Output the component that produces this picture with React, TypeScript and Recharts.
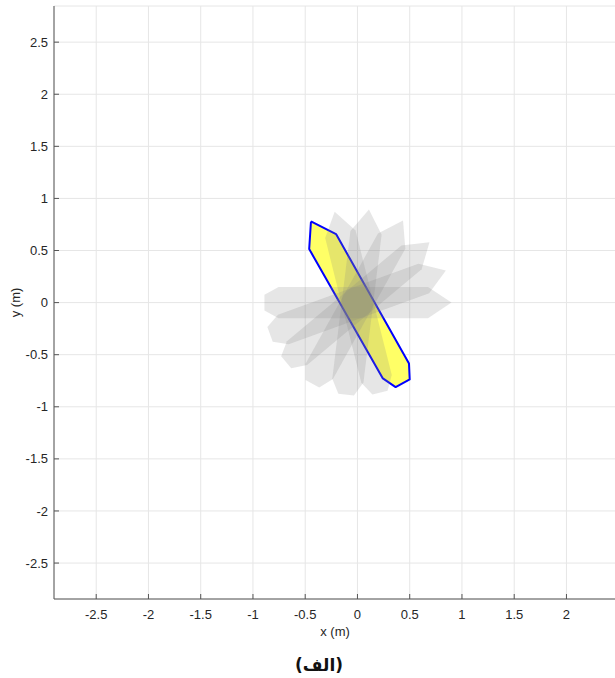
import React from 'react'
import { CartesianGrid, Label, Scatter, ScatterChart, XAxis, YAxis } from 'recharts'

const xTicks = [-2.5, -2, -1.5, -1, -0.5, 0, 0.5, 1, 1.5, 2]
const yTicks = [-2.5, -2, -1.5, -1, -0.5, 0, 0.5, 1, 1.5, 2, 2.5]

// current rod position (yellow, blue outline)
const rodNow = [
    { x: -0.445, y: 0.779 },
    { x: -0.205, y: 0.658 },
    { x: 0.493, y: -0.584 },
    { x: 0.5, y: -0.738 },
    { x: 0.365, y: -0.811 },
    { x: 0.243, y: -0.728 },
    { x: -0.462, y: 0.514 },
]

// earlier rod positions (grey ghosts)
const rod0 = [
    { x: 0.9, y: 0 },
    { x: 0.675, y: 0.15 },
    { x: -0.755, y: 0.15 },
    { x: -0.89, y: 0.075 },
    { x: -0.89, y: -0.075 },
    { x: -0.755, y: -0.15 },
    { x: 0.675, y: -0.15 },
]
const rod20 = [
    { x: 0.846, y: 0.308 },
    { x: 0.583, y: 0.372 },
    { x: -0.761, y: -0.117 },
    { x: -0.862, y: -0.234 },
    { x: -0.811, y: -0.375 },
    { x: -0.658, y: -0.399 },
    { x: 0.686, y: 0.09 },
]
const rod40 = [
    { x: 0.689, y: 0.579 },
    { x: 0.421, y: 0.549 },
    { x: -0.675, y: -0.37 },
    { x: -0.73, y: -0.515 },
    { x: -0.634, y: -0.63 },
    { x: -0.482, y: -0.6 },
    { x: 0.614, y: 0.319 },
]
const rod61 = [
    { x: 0.436, y: 0.787 },
    { x: 0.196, y: 0.663 },
    { x: -0.497, y: -0.588 },
    { x: -0.497, y: -0.742 },
    { x: -0.366, y: -0.815 },
    { x: -0.235, y: -0.733 },
    { x: 0.458, y: 0.518 },
]
const rod83 = [
    { x: 0.11, y: 0.893 },
    { x: -0.067, y: 0.688 },
    { x: -0.241, y: -0.731 },
    { x: -0.183, y: -0.874 },
    { x: -0.034, y: -0.892 },
    { x: 0.057, y: -0.768 },
    { x: 0.231, y: 0.652 },
]
const rod104 = [
    { x: -0.218, y: 0.873 },
    { x: -0.309, y: 0.619 },
    { x: 0.037, y: -0.769 },
    { x: 0.143, y: -0.882 },
    { x: 0.288, y: -0.846 },
    { x: 0.328, y: -0.696 },
    { x: -0.018, y: 0.691 },
]
const pastRods = [rod0, rod20, rod40, rod61, rod83, rod104]

const closed = (pts: { x: number; y: number }[]) => [...pts, pts[0]]
const noDot = () => <g />

const tickStyle = { fill: '#262626', fontSize: 13, fontFamily: 'Liberation Sans, Arial, sans-serif' }

const App = () => {
    return (
        <div style={{ position: 'absolute', left: 0, top: 0, width: 615, height: 678, overflow: 'hidden', background: '#fff' }}>
            <ScatterChart width={616} height={678} margin={{ top: 6, right: 0, bottom: 0, left: 0 }}>
                <CartesianGrid stroke='#e6e6e6' />
                <XAxis
                    type='number'
                    dataKey='x'
                    domain={[-2.904, 2.474]}
                    allowDataOverflow
                    ticks={xTicks}
                    height={79}
                    tickSize={-5}
                    tickMargin={16}
                    stroke='#555'
                    tick={tickStyle}
                >
                    <Label value='x (m)' position='insideTop' offset={28} fill='#262626' fontSize={13} fontFamily='Liberation Sans, Arial, sans-serif' />
                    <Label value='(الف)' position='insideTop' offset={60} dx={-16} fill='#111' fontSize={17} fontWeight='bold' fontFamily='DejaVu Sans, sans-serif' />
                </XAxis>
                <XAxis
                    xAxisId='top'
                    orientation='top'
                    type='number'
                    dataKey='x'
                    domain={[-2.904, 2.474]}
                    allowDataOverflow
                    ticks={xTicks}
                    height={0}
                    tickSize={-5}
                    tick={false}
                    stroke='#555'
                />
                <YAxis
                    type='number'
                    dataKey='y'
                    domain={[-2.845, 2.847]}
                    allowDataOverflow
                    ticks={yTicks}
                    width={54}
                    tickSize={-5}
                    tickMargin={11}
                    stroke='#555'
                    tick={tickStyle}
                >
                    <Label value='y (m)' angle={-90} position='insideLeft' offset={15} fill='#262626' fontSize={13} fontFamily='Liberation Sans, Arial, sans-serif' style={{ textAnchor: 'middle' }} />
                </YAxis>
                <Scatter
                    data={closed(rodNow)}
                    shape={noDot}
                    line={{ fill: '#ffff66', stroke: '#0000ff', strokeWidth: 2, strokeLinejoin: 'round' }}
                    isAnimationActive={false}
                />
                {pastRods.map((rod, i) => (
                    <Scatter
                        key={i}
                        data={closed(rod)}
                        shape={noDot}
                        line={{ fill: '#808080', fillOpacity: 0.2, stroke: 'none' }}
                        isAnimationActive={false}
                    />
                ))}
            </ScatterChart>
        </div>
    )
}

export default App
